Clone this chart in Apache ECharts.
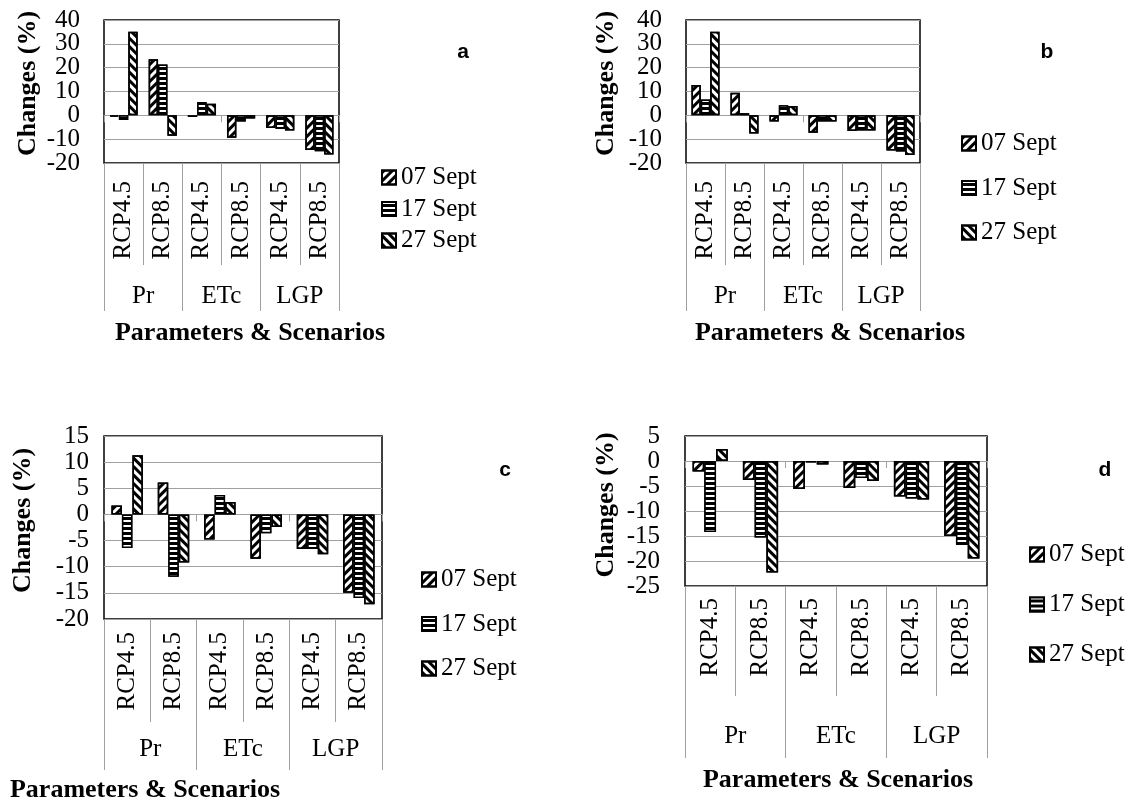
<!DOCTYPE html>
<html>
<head>
<meta charset="utf-8">
<script src="https://cdn.jsdelivr.net/npm/echarts@6/dist/echarts.min.js"></script>
<style>
html,body{margin:0;padding:0;background:#fff;}
#chart{width:1137px;height:802px;}
</style>
</head>
<body>
<div id="chart"></div>
<script>
// ---------- data ----------
const seriesNames = ['07 Sept', '17 Sept', '27 Sept'];
const groups = ['Pr', 'ETc', 'LGP'];
const scenarios = ['RCP4.5', 'RCP8.5'];
const yAxisTitle = 'Changes (%)';
const xAxisTitle = 'Parameters & Scenarios';
const panelLetters = ['a', 'b', 'c', 'd'];

// panel a
const a07 = [-0.5, 23.5, -0.7, -9.4, -5.3, -14.5];
const a17 = [-2.0, 21.3, 5.6, -2.6, -5.7, -15.1];
const a27 = [35.1, -8.6, 4.9, -1.3, -6.4, -16.4];
// panel b
const b07 = [12.7, 9.5, -2.6, -7.3, -6.6, -14.8];
const b17 = [6.6, 0.9, 4.2, -2.6, -6.4, -15.2];
const b27 = [35.1, -7.6, 3.9, -2.6, -6.4, -16.6];
// panel c
const c07 = [1.7, 6.1, -4.8, -8.5, -6.6, -15.0];
const c17 = [-6.4, -11.9, 3.7, -3.6, -6.6, -16.0];
const c27 = [11.3, -9.2, 2.4, -2.4, -7.6, -17.2];
// panel d
const d07 = [-2.1, -3.8, -5.6, -5.4, -7.1, -15.0];
const d17 = [-14.2, -15.3, -0.3, -3.4, -7.5, -16.8];
const d27 = [2.4, -22.3, -0.7, -4.0, -7.7, -19.5];

// y-axis ranges [min, max, interval] and tick labels (bottom to top)
const yRangeA = [-20, 40, 10];
const yRangeB = [-20, 40, 10];
const yRangeC = [-20, 15, 5];
const yRangeD = [-25, 5, 5];
const yTicksA = ['-20', '-10', '0', '10', '20', '30', '40'];
const yTicksB = ['-20', '-10', '0', '10', '20', '30', '40'];
const yTicksC = ['-20', '-15', '-10', '-5', '0', '5', '10', '15'];
const yTicksD = ['-25', '-20', '-15', '-10', '-5', '0', '5'];

// ---------- layout ----------
const categories = [];
groups.forEach(g => scenarios.forEach(s => categories.push(g + '|' + s)));

const SERIF = '"Liberation Serif", "Times New Roman", serif';
const SANS = '"Liberation Sans", Arial, sans-serif';
const GRAY = '#a0a0a0';

const panels = [
  {vals: [a07, a17, a27], yr: yRangeA, ticks: yTicksA, grid: {left: 104, top: 20, width: 235, height: 143},
   catGap: '28%', innerTick: 102, groupTick: 148, innerMargin: 18, groupMargin: 121, yLabelMargin: 24,
   nameGap: 63, namePad: 16, legend: {left: 381, top: 165, itemGap: 6.5}, letter: [463, 52], xTitle: [250, 333]},
  {vals: [b07, b17, b27], yr: yRangeB, ticks: yTicksB, grid: {left: 686, top: 20, width: 234, height: 143},
   catGap: '28%', innerTick: 102, groupTick: 148, innerMargin: 18, groupMargin: 121, yLabelMargin: 24,
   nameGap: 67, namePad: 16, legend: {left: 961, top: 131, itemGap: 19.5}, letter: [1047, 52], xTitle: [830, 333]},
  {vals: [c07, c17, c27], yr: yRangeC, ticks: yTicksC, grid: {left: 104, top: 436, width: 278, height: 183},
   catGap: '32%', innerTick: 103, groupTick: 151, innerMargin: 13, groupMargin: 118, yLabelMargin: 15,
   nameGap: 68, namePad: 14, legend: {left: 421, top: 567, itemGap: 19.5}, letter: [505, 470], xTitle: [145, 790]},
  {vals: [d07, d17, d27], yr: yRangeD, ticks: yTicksD, grid: {left: 685, top: 436, width: 302, height: 150},
   catGap: '30%', innerTick: 110, groupTick: 172, innerMargin: 12, groupMargin: 138, yLabelMargin: 25,
   nameGap: 66, namePad: 12, legend: {left: 1029, top: 542, itemGap: 25}, letter: [1105, 470], xTitle: [838, 780]}
];

function styleFor(i) {
  if (i === 0) return {color: '#fff', decal: {symbol: 'rect', symbolSize: 1, color: '#000',
    dashArrayX: [1, 0], dashArrayY: [3, 3], rotation: -Math.PI / 4}};
  if (i === 1) return {color: '#000', decal: {symbol: 'rect', symbolSize: 1, color: '#fff',
    dashArrayX: [1, 0], dashArrayY: [2, 3], rotation: 0}};
  return {color: '#fff', decal: {symbol: 'rect', symbolSize: 1, color: '#000',
    dashArrayX: [1, 0], dashArrayY: [3, 3], rotation: Math.PI / 4}};
}

const option = {
  animation: false,
  backgroundColor: '#fff',
  textStyle: {fontFamily: SERIF},
  grid: [], xAxis: [], yAxis: [], series: [], legend: [], graphic: []
};

panels.forEach((p, pi) => {
  option.grid.push(Object.assign({show: true, borderColor: '#000', borderWidth: 1.5,
    backgroundColor: 'transparent', containLabel: false}, p.grid));
  // axis at zero with small boundary ticks
  option.xAxis.push({
    type: 'category', gridIndex: pi, data: categories, position: 'bottom',
    axisLine: {show: true, onZero: true, lineStyle: {color: GRAY, width: 1}},
    axisTick: {show: true, inside: false, length: 7, lineStyle: {color: GRAY}},
    axisLabel: {show: false}, splitLine: {show: false}
  });
  // scenario labels
  option.xAxis.push({
    type: 'category', gridIndex: pi, data: categories, position: 'bottom',
    axisLine: {show: false, onZero: false},
    axisTick: {show: true, length: p.innerTick, lineStyle: {color: GRAY}},
    axisLabel: {show: true, interval: 0, rotate: 90, margin: p.innerMargin,
      fontFamily: SERIF, fontSize: 25, color: '#000',
      formatter: v => v.split('|')[1]},
    splitLine: {show: false}
  });
  // group labels
  option.xAxis.push({
    type: 'category', gridIndex: pi, data: groups, position: 'bottom',
    axisLine: {show: false, onZero: false},
    axisTick: {show: true, length: p.groupTick, lineStyle: {color: GRAY}},
    axisLabel: {show: true, interval: 0, margin: p.groupMargin,
      fontFamily: SERIF, fontSize: 25, color: '#000'},
    splitLine: {show: false}
  });
  // value axis (scale, gridlines, title)
  option.yAxis.push({
    type: 'value', gridIndex: pi, min: p.yr[0], max: p.yr[1], interval: p.yr[2],
    position: 'left',
    name: yAxisTitle, nameLocation: 'middle', nameGap: p.nameGap,
    nameTextStyle: {fontFamily: SERIF, fontSize: 26, fontWeight: 'bold', color: '#000',
      padding: [0, 0, 0, p.namePad]},
    axisLine: {show: false}, axisTick: {show: false},
    axisLabel: {show: false},
    splitLine: {show: true, lineStyle: {color: GRAY, width: 1}}
  });
  // tick-label axis (all labels shown)
  option.yAxis.push({
    type: 'category', gridIndex: pi, data: p.ticks, boundaryGap: false, position: 'left',
    axisLine: {show: false}, axisTick: {show: false}, splitLine: {show: false},
    axisLabel: {show: true, interval: 0, margin: p.yLabelMargin,
      fontFamily: SERIF, fontSize: 25, color: '#000'}
  });
  p.vals.forEach((vals, si) => {
    const st = styleFor(si);
    option.series.push({
      type: 'bar', name: seriesNames[si], xAxisIndex: pi * 3, yAxisIndex: pi * 2,
      data: vals, barGap: '0%', barCategoryGap: p.catGap, silent: true,
      itemStyle: {color: st.color, borderColor: '#000', borderWidth: 1.5, decal: st.decal}
    });
  });
  option.legend.push({
    data: seriesNames, orient: 'vertical', left: p.legend.left, top: p.legend.top,
    itemGap: p.legend.itemGap, padding: 0, icon: 'rect', itemWidth: 14, itemHeight: 14,
    selectedMode: false,
    textStyle: {fontFamily: SERIF, fontSize: 25, color: '#000'}
  });
  option.graphic.push({
    type: 'text', x: p.letter[0], y: p.letter[1], silent: true,
    style: {text: panelLetters[pi], fontFamily: SANS, fontWeight: 'bold', fontSize: 21,
      fill: '#000', align: 'center', verticalAlign: 'middle'}
  });
  option.graphic.push({
    type: 'text', x: p.xTitle[0], y: p.xTitle[1], silent: true,
    style: {text: xAxisTitle, fontFamily: SERIF, fontWeight: 'bold', fontSize: 26,
      fill: '#000', align: 'center', verticalAlign: 'middle'}
  });
});

const chart = echarts.init(document.getElementById('chart'), null, {renderer: 'canvas'});
chart.setOption(option);
</script>
</body>
</html>
